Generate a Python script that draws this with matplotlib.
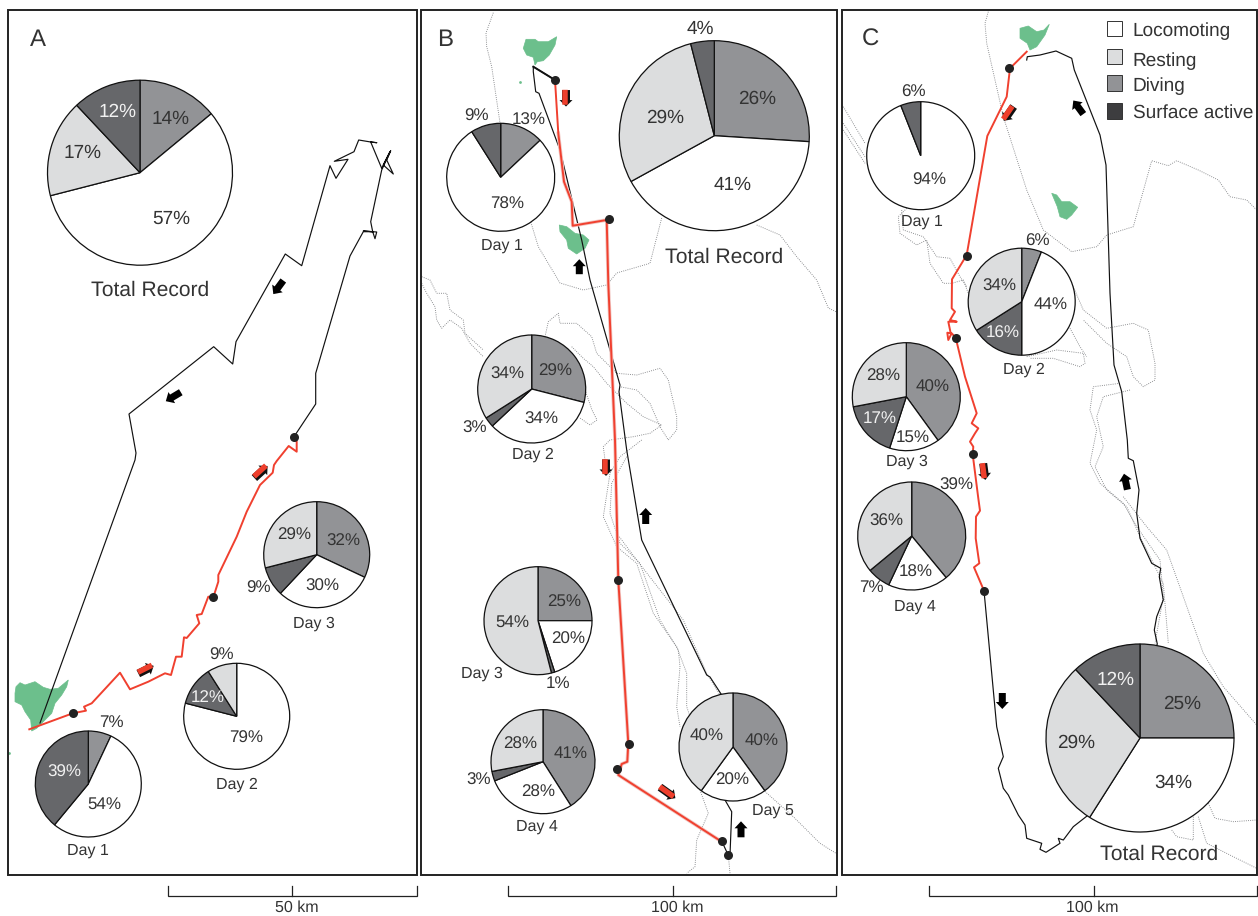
import matplotlib
matplotlib.use("Agg")
import matplotlib.pyplot as plt
from matplotlib.patches import Rectangle, Polygon, FancyArrow

plt.rcParams["font.family"] = ["Liberation Sans", "DejaVu Sans"]
plt.rcParams["text.hinting"] = "no_hinting"
plt.rcParams["text.hinting_factor"] = 1

# Activity budgets, clockwise from the top of each pie
state_colors = {"loco": "#ffffff", "rest": "#dcddde", "dive": "#929396", "surf": "#66676a"}

a_total_vals = [14, 57, 17, 12]
a_total_states = ["dive", "loco", "rest", "surf"]
a_day1_vals = [7, 54, 39]
a_day1_states = ["dive", "loco", "surf"]
a_day2_vals = [79, 12, 9]
a_day2_states = ["loco", "surf", "rest"]
a_day3_vals = [32, 30, 9, 29]
a_day3_states = ["dive", "loco", "surf", "rest"]

b_total_vals = [26, 41, 29, 4]
b_total_states = ["dive", "loco", "rest", "surf"]
b_day1_vals = [13, 78, 9]
b_day1_states = ["dive", "loco", "surf"]
b_day2_vals = [29, 34, 3, 34]
b_day2_states = ["dive", "loco", "surf", "rest"]
b_day3_vals = [25, 20, 1, 54]
b_day3_states = ["dive", "loco", "surf", "rest"]
b_day4_vals = [41, 28, 3, 28]
b_day4_states = ["dive", "loco", "surf", "rest"]
b_day5_vals = [40, 20, 40]
b_day5_states = ["dive", "loco", "rest"]

c_total_vals = [25, 34, 29, 12]
c_total_states = ["dive", "loco", "rest", "surf"]
c_day1_vals = [94, 6]
c_day1_states = ["loco", "surf"]
c_day2_vals = [6, 44, 16, 34]
c_day2_states = ["dive", "loco", "surf", "rest"]
c_day3_vals = [40, 15, 17, 28]
c_day3_states = ["dive", "loco", "surf", "rest"]
c_day4_vals = [39, 18, 7, 36]
c_day4_states = ["dive", "loco", "surf", "rest"]

legend_names = ["Locomoting", "Resting", "Diving", "Surface active"]
scale_names = ["50 km", "100 km", "100 km"]
panel_names = ["A", "B", "C"]

# Tracks in image pixels
a_black_x = [40, 135, 136, 129, 213.7, 232.7, 236, 285.3, 301.7, 330, 336, 348, 334.3, 354, 358.7, 370.7, 376.7, 370.7, 381.7, 390, 383.3, 393.3, 386.7, 390.7, 381.7, 370.7, 372.7, 363.3, 376.7, 375, 372.7, 363.3, 350, 315.7, 315.7, 294]
a_black_y = [723, 460, 453, 414, 346.7, 364, 341.7, 254, 265.7, 165.7, 178.3, 159.3, 161.3, 151.7, 140, 142, 142.7, 142, 168.3, 151.7, 165, 174, 160, 150.7, 170, 221.7, 231.7, 231, 232, 238.7, 231.7, 231.7, 256, 373.3, 404, 436.7]
a_red_x = [29.3, 72.7, 86, 84, 91.7, 120, 130, 148.3, 165, 171, 176, 181.7, 184, 186.7, 199.3, 196.7, 201.7, 208.3, 213.3, 218.3, 218.3, 236.7, 246.7, 260, 272.7, 274, 276.7, 288.7, 296.7, 296.7, 294]
a_red_y = [729.3, 713.3, 710.7, 706.7, 703.3, 672.7, 689.3, 681.7, 673.3, 675, 656.7, 656.7, 637.3, 638, 623.3, 615, 614, 596.7, 597.3, 581.7, 575, 536.7, 511.7, 485, 472.7, 465, 461, 446, 451.7, 441.7, 436.7]

b_black_x = [555, 533.3, 533.3, 535.7, 539, 560, 581.7, 590, 610, 620, 619, 626.7, 641.7, 706.7, 710, 721.7, 725, 731.7, 730, 728.3]
b_black_y = [80, 66.7, 71.7, 91.7, 93.3, 150, 240, 280, 350, 385, 391.7, 450, 540, 675, 677, 695, 800, 811.7, 855, 855.3]
b_black2_x = [722, 728.3]
b_black2_y = [841.7, 855.3]
b_red_x = [533.3, 555, 558.3, 564, 571.7, 572.7, 606.7, 608.3, 615, 618.3, 628.3, 627.3, 621.7, 618.3, 721.7]
b_red_y = [66.7, 80, 133.3, 181.7, 201.7, 225.7, 220, 283.3, 440, 580, 743.3, 761.7, 764, 775, 841.7]

c_black_x = [1026.7, 1027.3, 1040, 1056, 1071.7, 1074.3, 1100, 1106, 1110, 1114, 1121.7, 1127.3, 1128.3, 1133.3, 1139, 1136.7, 1140, 1151.7, 1160.7, 1159.3, 1163.3, 1156.7, 1154.3, 1157.3, 1088.3, 1073.3, 1063.3, 1058.3, 1060, 1046, 1040, 1041.7, 1026.7, 1025, 1018.3, 1008.3, 1003.3, 998.3, 1003.3, 1000, 996.7, 984]
c_black_y = [60, 56.7, 55, 51, 58.3, 70, 135, 165, 293.3, 365, 391.7, 440, 458.3, 460.7, 490, 513.3, 538.3, 563.3, 568.3, 576.7, 600, 616.7, 630, 644, 815, 826.7, 840, 838.3, 843.3, 852.3, 849.3, 843.3, 838.3, 825, 815, 795, 788.3, 768.3, 756.7, 741.7, 726.7, 590.7]
c_red_x = [1026.7, 1010, 1006.7, 987.3, 966.7, 952, 951.7, 955, 950, 956.7, 948.3, 950.7, 947.3, 948.3, 951.7, 955.7, 965, 976.7, 971.7, 978.3, 975, 970, 973.3, 972.7, 978.3, 980, 976, 975.7, 979.3, 974, 984]
c_red_y = [51.7, 68.3, 96.7, 136, 255, 279.3, 308.3, 311.7, 320, 321.7, 321.7, 333.3, 332.7, 340, 333.3, 337.7, 376.7, 413.3, 423.3, 428.3, 433.3, 441.7, 446.7, 454.3, 498.3, 510.7, 516.7, 538.3, 563.3, 567.3, 590.7]

dots_x = [72.7, 213.3, 294, 555, 609, 618.3, 629.3, 617, 722.3, 728.3, 1009.3, 967, 955.7, 973, 984.3]
dots_y = [713.3, 597.3, 436.7, 80, 218.7, 580, 744.3, 769.3, 841.3, 855.3, 67.7, 255.7, 338, 454.3, 590.7]

# Islands
island_a = [(15, 693.3), (16, 686.7), (20, 682.7), (25, 685), (35, 681.7), (43.3, 687.3), (50, 689.3), (58.3, 688.3), (68.3, 680), (66.7, 686.7), (61.7, 695), (55, 703.3), (51.7, 713.3), (43.3, 721.7), (36.7, 728.3), (31.7, 731), (30.7, 720), (25, 711.7), (21.7, 705), (15, 701.7)]
island_b1 = [(523.3, 48.3), (526, 39.3), (535, 39.3), (538.3, 41.7), (548.3, 41.7), (556.7, 36.7), (555, 45), (549.3, 55), (543.3, 60.7), (537.3, 61.7), (535, 65), (533.3, 57.3), (526.7, 55)]
island_b2 = [(559.3, 225), (566.7, 226.7), (575, 233.3), (583.3, 235), (589, 240), (585, 248.3), (576.7, 254), (568.3, 248.3), (566.7, 240), (560, 231.7)]
island_c1 = [(1020, 28.3), (1028.3, 26), (1036.7, 31.7), (1044, 30), (1049.3, 24.3), (1045, 35), (1036.7, 46.7), (1030, 50), (1027.3, 43.3), (1020, 38.3)]
island_c2 = [(1051.7, 193.3), (1056.7, 195), (1061.7, 201.7), (1070, 201.7), (1077.7, 207.3), (1071.7, 215), (1066.7, 219.3), (1060, 216.7), (1057.3, 206.7)]
islet_x = [9, 520]
islet_y = [753, 81.7]

# Dotted depth contours
contours = [
    [(493.3, 12.7), (486, 33), (486.7, 46.7), (491.7, 66.7), (500, 123), (531.7, 225), (538.3, 246.7), (560, 283), (583.3, 290), (606.7, 285), (616.7, 273), (650, 263.3), (661.7, 218)],
    [(756.7, 225), (780, 235), (796.7, 256.7), (816.7, 280), (828.3, 308), (836, 311.7)],
    [(421.7, 276.7), (430, 280), (436.7, 293.3), (446.7, 293.3), (450, 310), (463.3, 320), (465, 333.3), (483.3, 350)],
    [(421.7, 283.3), (426.7, 293.3), (435, 306.7), (436.7, 320), (441.7, 328.3), (450, 320), (461.7, 328.3), (470, 343.3), (483.3, 356.7)],
    [(545, 336.7), (548.3, 321.7), (558.3, 313.3), (560, 323.3), (576.7, 323.3), (591.7, 336.7), (596.7, 353.3), (616.7, 373.3), (636.7, 375), (660, 368.3), (668.3, 380), (676.7, 416.7), (676.7, 430), (668.3, 440), (660, 426.7), (650, 403.3), (636.7, 390), (620, 386.7)],
    [(571.7, 346.7), (583.3, 358.3), (593.3, 366.7), (606.7, 383.3), (616.7, 393.3), (626.7, 403.3), (643.3, 416.7), (661.7, 425), (650, 433.3), (633.3, 436.7), (610, 440), (603.3, 446.7), (605, 460)],
    [(585, 390), (592, 410), (597, 420), (590, 425), (580, 418)],
    [(641.7, 440), (620, 456.7), (610, 473.3), (603.3, 516.7), (616.7, 546.7), (636.7, 563.3), (653.3, 613.3), (676.7, 646.7), (686.7, 673.3), (686.7, 706.7), (690, 716.7)],
    [(626.7, 456.7), (611.7, 483.3), (610, 513.3), (620, 543.3), (640, 563.3), (660, 620), (678.3, 650), (680, 666.7), (676.7, 706.7), (680, 726.7)],
    [(616.7, 490), (616.7, 533.3), (636.7, 560), (683.3, 620), (706.7, 673.3), (720, 695)],
    [(700, 790), (708.3, 813.3), (696.7, 840), (695, 866.7), (686.7, 873.3)],
    [(763.3, 790), (793.3, 816.7), (820, 843.3), (836, 853.3)],
    [(728.3, 855), (730, 873.3)],
    [(988.3, 11.7), (985, 23.3), (986.7, 43.3), (1003.3, 116.7), (1026.7, 190), (1043.3, 230), (1071.7, 251.7), (1096.7, 246.7), (1106.7, 235), (1133.3, 226.7), (1151.7, 160.7), (1168.3, 165.7), (1176.7, 160.7), (1198.3, 170), (1218.3, 180), (1230, 196.7), (1246.7, 200), (1256.7, 210)],
    [(843.3, 106.7), (865, 143.3)],
    [(843.3, 123.3), (865, 156.7)],
    [(843.3, 130), (865, 163.3)],
    [(906.7, 208.3), (898.3, 216.7), (900, 233.3), (916.7, 245), (926.7, 240), (930, 263.3), (943.3, 283.3), (951.7, 283.3), (963.3, 280), (968.3, 293.3)],
    [(901.7, 210), (903.3, 230), (923.3, 236.7), (936.7, 256.7), (950, 258.3), (960, 276.7), (966.7, 286.7)],
    [(1073.3, 286.7), (1083.3, 310), (1106.7, 328.3), (1133.3, 323.3), (1148.3, 330), (1155, 363.3), (1155, 380), (1143.3, 386.7), (1133.3, 376.7), (1126.7, 356.7), (1106.7, 343.3), (1083.3, 320)],
    [(1026.7, 356.7), (1056.7, 350), (1083.3, 353.3), (1085, 363.3), (1080, 366.7), (1053.3, 358.3), (1030, 358.3)],
    [(1070, 328.3), (1080, 346.7), (1086.7, 356.7)],
    [(1120, 383.3), (1093.3, 386.7), (1090, 410), (1096.7, 430), (1090, 463.3), (1100, 483.3), (1123.3, 503.3), (1136.7, 526.7), (1160, 560), (1163.3, 596.7), (1155, 643.3)],
    [(1130, 390), (1103.3, 396.7), (1096.7, 416.7), (1103.3, 446.7), (1095, 466.7), (1106.7, 490), (1126.7, 506.7), (1140, 536.7), (1163.3, 583.3), (1168.3, 643.3)],
    [(1123.3, 496.7), (1146.7, 526.7), (1166.7, 550), (1183.3, 596.7), (1203.3, 653.3), (1223.3, 686.7), (1256.7, 725)],
    [(1208.3, 803.3), (1215, 818.3), (1233.3, 821.7), (1256.7, 820)],
    [(1193.3, 816.7), (1193.3, 840), (1176.7, 836.7), (1171.7, 830)],
    [(1198.3, 816.7), (1206.7, 843.3), (1233.3, 856.7), (1256.7, 868.3)],
]

# Layout of the pies: values, states, centre, radius, label spots, white labels, caption
pies = [
    (a_total_vals, a_total_states, (140, 172.7), 92.5, [(170.7, 119), (171, 218.7), (82.7, 153), (117.3, 111.7)], [3], "Total Record", (150, 290.7)),
    (a_day1_vals, a_day1_states, (88.3, 784), 53, [(111.3, 723), (104.7, 804), (64.7, 772.7)], [2], "Day 1", (88, 851)),
    (a_day2_vals, a_day2_states, (236.7, 716.3), 53, [(246.3, 738.3), (207.3, 697.3), (221.7, 655.7)], [1], "Day 2", (236.7, 785)),
    (a_day3_vals, a_day3_states, (316.7, 554.7), 53, [(343.3, 541.3), (322.7, 586), (258.3, 588.7), (294, 535)], [], "Day 3", (314, 624)),
    (b_total_vals, b_total_states, (714.3, 135.7), 95, [(757.3, 98.7), (732.7, 185), (665, 117.7), (700, 29)], [], "Total Record", (724, 257.7)),
    (b_day1_vals, b_day1_states, (500.7, 177.3), 54, [(529, 120), (506.7, 204), (476.7, 116.7)], [], "Day 1", (501.7, 246)),
    (b_day2_vals, b_day2_states, (531.7, 389), 54, [(555, 371.3), (541, 419.3), (475, 428.3), (507.3, 374.3)], [], "Day 2", (532.7, 455)),
    (b_day3_vals, b_day3_states, (538, 620.7), 54, [(564.3, 602), (568.3, 639.3), (558, 683.3), (512, 622.7)], [], "Day 3", (482, 674)),
    (b_day4_vals, b_day4_states, (543, 761.7), 52, [(570.3, 753.3), (538, 792), (478.7, 780.7), (520, 744)], [], "Day 4", (536.7, 827)),
    (b_day5_vals, b_day5_states, (733, 747), 54, [(761.3, 741.7), (732, 780.3), (706.7, 736.3)], [], "Day 5", (773.3, 810.3)),
    (c_total_vals, c_total_states, (1140, 738), 94, [(1182, 703.7), (1173.7, 782.7), (1076.3, 742.7), (1115.3, 680)], [3], "Total Record", (1159, 854.3)),
    (c_day1_vals, c_day1_states, (920.7, 155.7), 54, [(929.3, 180), (913.3, 92)], [], "Day 1", (921.7, 221.7)),
    (c_day2_vals, c_day2_states, (1021.7, 301.7), 53.5, [(1037.7, 241.7), (1050.3, 305), (1002.7, 333.3), (999, 286.7)], [2], "Day 2", (1024.3, 370)),
    (c_day3_vals, c_day3_states, (906.3, 396.7), 54, [(932.7, 387.7), (912.7, 437.3), (879.7, 419), (882.7, 376.7)], [2], "Day 3", (906.7, 461.7)),
    (c_day4_vals, c_day4_states, (911.7, 536), 54, [(956.7, 485.3), (915.3, 572.3), (871, 588), (886, 521.3)], [], "Day 4", (914.7, 606.7)),
]

# Direction arrows: x, y, dx, dy
red_arrows = [(260, 471, 6, -5.5), (145, 668.7, 7, -3.5), (565, 97.3, 0, 7.5), (605, 466.7, 0, 7.5), (666.7, 791.7, 7, 5), (1007.7, 112.7, -4.5, 6.5), (983.3, 470.7, 1, 7.5)]
black_arrows = [(278.3, 287.3, -5, 6.8), (173.3, 396.7, -7.5, 4.5), (579.3, 266.7, 0, -7.5), (645.7, 516, 0, -8), (741, 829.3, 0, -8), (1078.3, 107.3, -5, -6.8), (1125.7, 481.7, -1.7, -8), (1002.3, 701, 0, 8)]

fig = plt.figure(figsize=(12.58, 9.16), dpi=100)
ax = fig.add_axes([0, 0, 1, 1])

for line in contours:
    ax.plot([p[0] for p in line], [p[1] for p in line], color="#808285", lw=0.65, ls=(0, (1, 1.4)), zorder=1)

for island in [island_a, island_b1, island_b2, island_c1, island_c2]:
    ax.add_patch(Polygon(island, closed=True, fc="#6cbf8c", ec="#6cbf8c", lw=0.5, zorder=2))
ax.plot(islet_x, islet_y, "o", color="#6cbf8c", ms=2, mew=0, zorder=2)

# Tracks
ax.plot(a_black_x, a_black_y, color="#111111", lw=0.85, zorder=3)
ax.plot(b_black_x, b_black_y, color="#111111", lw=0.85, zorder=3)
ax.plot(b_black_x[:2], b_black_y[:2], color="#111111", lw=1.4, zorder=3)
ax.plot(b_black2_x, b_black2_y, color="#111111", lw=0.85, zorder=3)
ax.plot(c_black_x, c_black_y, color="#111111", lw=0.85, zorder=3)
ax.plot(b_red_x[2:], b_red_y[2:], color="#f2c8c4", lw=2.6, zorder=3)
ax.plot(a_red_x, a_red_y, color="#f0402f", lw=1.4, zorder=3.2)
ax.plot(b_red_x[1:], b_red_y[1:], color="#f0402f", lw=1.4, zorder=3.2)
ax.plot(c_red_x, c_red_y, color="#f0402f", lw=1.4, zorder=3.2)
ax.plot(dots_x, dots_y, "o", color="#222222", ms=6.5, mew=0, zorder=4)


def block_arrow(x, y, dx, dy, color, body, head, tip):
    # centred on x, y
    return FancyArrow(x - dx, y - dy, 2 * dx, 2 * dy, width=body, head_width=head, head_length=tip,
                      length_includes_head=True, fc=color, ec="none", zorder=4)


for x, y, dx, dy in red_arrows:
    ax.add_patch(block_arrow(x + 1, y + 1, dx * 1.1, dy * 1.1, "#111111", 8, 13, 6.5))
    ax.add_patch(block_arrow(x, y, dx, dy, "#ee3f2c", 5.5, 5.5, 0.1))
for x, y, dx, dy in black_arrows:
    ax.add_patch(block_arrow(x, y, dx, dy, "#000000", 7, 13, 7))

# Pies
for vals, states, center, radius, spots, white, caption, cap_xy in pies:
    # y axis is flipped below, so rising angles run clockwise on screen
    ax.pie(vals, colors=[state_colors[s] for s in states], center=center, radius=radius,
           startangle=-90, counterclock=True, frame=True,
           wedgeprops={"edgecolor": "#111111", "linewidth": 0.9, "zorder": 5})
    big = radius > 80
    for i, (v, (tx, ty)) in enumerate(zip(vals, spots)):
        ax.text(tx, ty, f"{v}%", ha="center", va="center", fontsize=13.9 if big else 12.2,
                color="#f2f2f2" if i in white else "#333333", zorder=6)
    ax.text(cap_xy[0], cap_xy[1], caption, ha="center", va="center", fontsize=15.2 if big else 11.5,
            color="#333333", zorder=6)

# Panel frames
frames = [(8, 9.5, 416.7, 874.5), (421, 10, 836.7, 875), (841.7, 10, 1257, 875)]
letter_xy = [(38.3, 40), (445.3, 39.5), (870.7, 39.5)]
for (x0, y0, x1, y1), name, (lx, ly) in zip(frames, panel_names, letter_xy):
    ax.add_patch(Rectangle((x0, y0), x1 - x0, y1 - y0, fill=False, ec="#222222", lw=1.4, zorder=7))
    ax.text(lx, ly, name, ha="center", va="center", fontsize=17, color="#333333", zorder=7)

# Scale bars
scales = [(167.7, 292.3, 416.7, 296.7), (508.3, 673, 836, 677), (929.3, 1094, 1256.7, 1092.7)]
for (x0, xm, x1, tx), name in zip(scales, scale_names):
    ax.plot([x0, x0, x1, x1], [886, 895.5, 895.5, 886], color="#222222", lw=0.9, solid_joinstyle="miter")
    ax.plot([xm, xm], [886, 895.5], color="#222222", lw=0.9)
    ax.text(tx, 908, name, ha="center", va="center", fontsize=11.3, color="#333333")

# Legend
legend_cols = ["#ffffff", "#dcddde", "#929396", "#3d3d3f"]
legend_box = [(21, 36), (49.3, 64), (75.3, 90.7), (103.3, 119)]
legend_text_y = [30.7, 60.7, 85.7, 113.3]
for name, col, (y0, y1), ty in zip(legend_names, legend_cols, legend_box, legend_text_y):
    ax.add_patch(Rectangle((1107.3, y0), 14.4, y1 - y0, fc=col, ec="#333333", lw=0.7, zorder=6))
    ax.text(1132.7, ty, name, ha="left", va="center", fontsize=13.5, color="#333333", zorder=6)

ax.set_xlim(0, 1258)
ax.set_ylim(916, 0)
ax.axis("off")

fig.savefig("out.png", dpi=100)
